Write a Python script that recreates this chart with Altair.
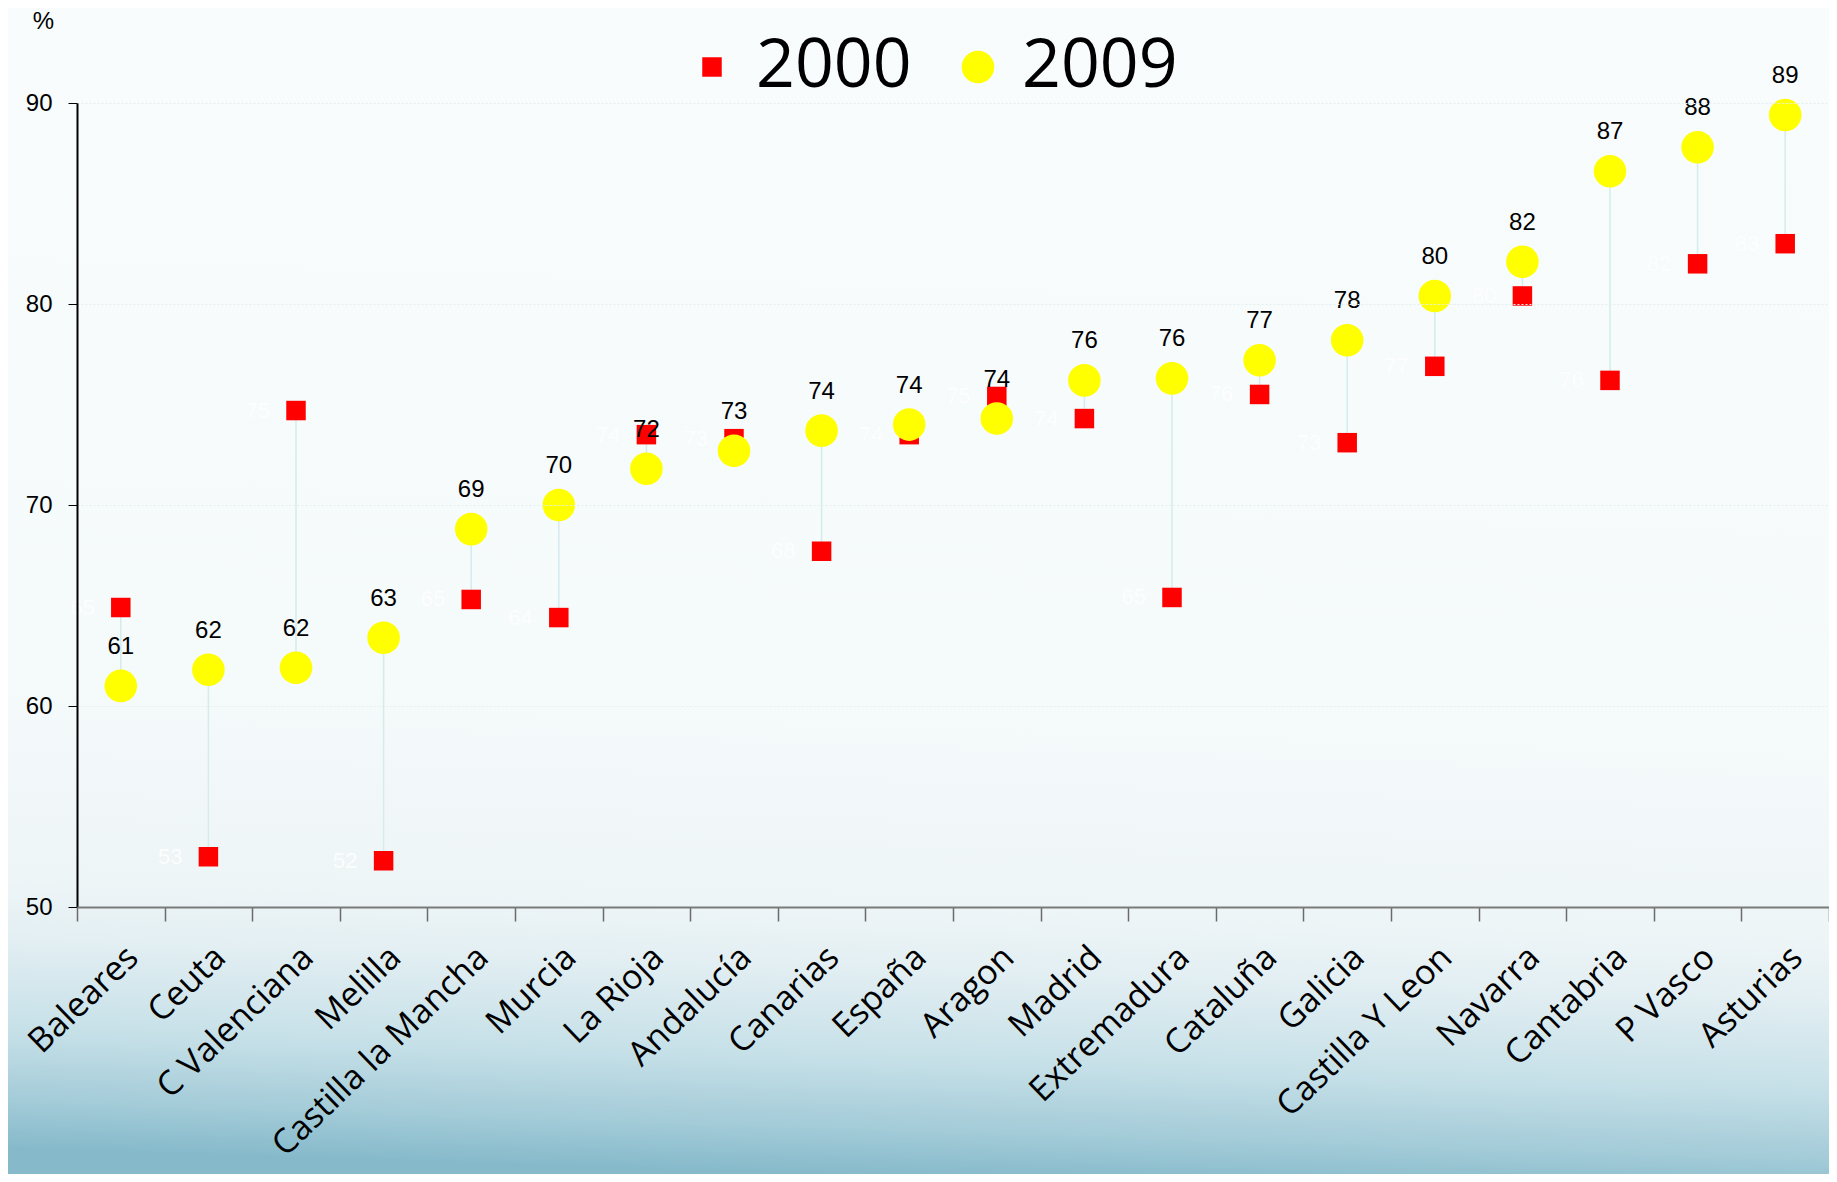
import altair as alt
import pandas as pd

regions = ["Baleares", "Ceuta", "C Valenciana", "Melilla", "Castilla la Mancha", "Murcia",
           "La Rioja", "Andalucía", "Canarias", "España", "Aragon", "Madrid", "Extremadura",
           "Cataluña", "Galicia", "Castilla Y Leon", "Navarra", "Cantabria", "P Vasco", "Asturias"]
v2000 = [64.9, 52.5, 74.7, 52.3, 65.3, 64.4, 73.5, 73.3, 67.7, 73.5,
         75.4, 74.3, 65.4, 75.5, 73.1, 76.9, 80.4, 76.2, 82.0, 83.0]
v2009 = [61.0, 61.8, 61.9, 63.4, 68.8, 70.0, 71.8, 72.7, 73.7, 74.0,
         74.3, 76.2, 76.3, 77.2, 78.2, 80.4, 82.1, 86.6, 87.8, 89.4]
years = ["2000", "2009"]
y_ticks = [50, 60, 70, 80, 90]

wide = pd.DataFrame({"region": regions, "v2000": v2000, "v2009": v2009})
long = pd.DataFrame({
    "region": regions + regions,
    "year": ["2000"] * len(regions) + ["2009"] * len(regions),
    "value": v2000 + v2009,
})

x_enc = alt.X("region:N", sort=regions, title=None,
              scale=alt.Scale(paddingInner=0, paddingOuter=0),
              axis=alt.Axis(labelAngle=-44, labelFont="Open Sans", labelFontSize=34,
                            labelColor="black", labelAlign="right", labelBaseline="top",
                            labelPadding=19, labelLimit=600, tickBand="extent", tickSize=14,
                            tickColor="#6b6b6b", domainColor="#7a7a7a", domainWidth=2,
                            tickWidth=1.5, grid=False, labelOverlap=False, zindex=2))
y_scale = alt.Scale(domain=[50, 90], nice=False, zero=False)

bg = alt.Chart(alt.Data(values=[{"a": 1}])).mark_rect(
    fill=alt.Gradient(
        gradient="linear",
        stops=[alt.GradientStop(color="#f8fcfd", offset=0),
               alt.GradientStop(color="#f5fafb", offset=0.6),
               alt.GradientStop(color="#eef5f7", offset=0.77),
               alt.GradientStop(color="#e3eff3", offset=0.82),
               alt.GradientStop(color="#c6e0e8", offset=0.9),
               alt.GradientStop(color="#a3cbd8", offset=0.96),
               alt.GradientStop(color="#86bacb", offset=1)],
        x1=0.5, y1=0, x2=0.45, y2=1),
    stroke=None,
).encode(x=alt.value(-69), x2=alt.value(1752), y=alt.value(-95), y2=alt.value(1071))

rules = alt.Chart(wide).mark_rule(color="#d4ecec", strokeWidth=1.5).encode(
    x=x_enc,
    y=alt.Y("v2000:Q", scale=y_scale),
    y2="v2009:Q",
)

leg_common = dict(title=None, orient="none", direction="horizontal", legendX=601, legendY=-70)

points = alt.Chart(long).mark_point(filled=True, opacity=1, strokeWidth=0).encode(
    x=x_enc,
    y=alt.Y("value:Q", scale=y_scale,
            axis=alt.Axis(values=y_ticks, title="%", titleAngle=0, titleX=-34, titleY=-82,
                          titleAlign="center", titleBaseline="middle", titleFont="Liberation Sans",
                          titleFontSize=24, titleFontWeight="normal", titleColor="black",
                          labelFont="Liberation Sans", labelFontSize=24, labelColor="black",
                          labelPadding=16, tickSize=9, tickColor="black", domainColor="black",
                          domainWidth=2, gridColor="#e4eeee", gridDash=[2, 2], gridWidth=1,
                          zindex=1)),
    color=alt.Color("year:N", scale=alt.Scale(domain=years, range=["#ff0000", "#ffff00"]),
                    legend=alt.Legend(labelFont="Open Sans", labelFontSize=68,
                                      labelColor="black", labelOffset=10,
                                      columnPadding=32, symbolOpacity=1, symbolStrokeWidth=0,
                                      padding=0, labelLimit=400, **leg_common)),
    shape=alt.Shape("year:N", scale=alt.Scale(domain=years, range=["square", "circle"]),
                    legend=alt.Legend(**leg_common)),
    size=alt.Size("year:N", scale=alt.Scale(domain=years, range=[380, 1060]),
                  legend=alt.Legend(**leg_common)),
)

lab2000 = alt.Chart(wide).mark_text(color="white", opacity=0.85, font="Liberation Sans",
                                    fontSize=22, align="right", baseline="middle", dx=-26).encode(
    x=x_enc,
    y=alt.Y("v2000:Q", scale=y_scale),
    text=alt.Text("v2000:Q", format=".0f"),
)

lab2009 = alt.Chart(wide).mark_text(color="black", font="Liberation Sans", fontSize=24,
                                    align="center", baseline="alphabetic", dy=-32).encode(
    x=x_enc,
    y=alt.Y("v2009:Q", scale=y_scale),
    text=alt.Text("v2009:Q", format=".0f"),
)

chart = alt.layer(bg, rules, points, lab2000, lab2009).properties(
    width=1752, height=804,
    autosize=alt.AutoSizeParams(type="none"),
    padding={"left": 69, "top": 95, "right": 0, "bottom": 267},
    background="#f8fcfd",
).configure_view(stroke=None)

chart.save("out.html", embed_options={"renderer": "svg", "actions": False})
